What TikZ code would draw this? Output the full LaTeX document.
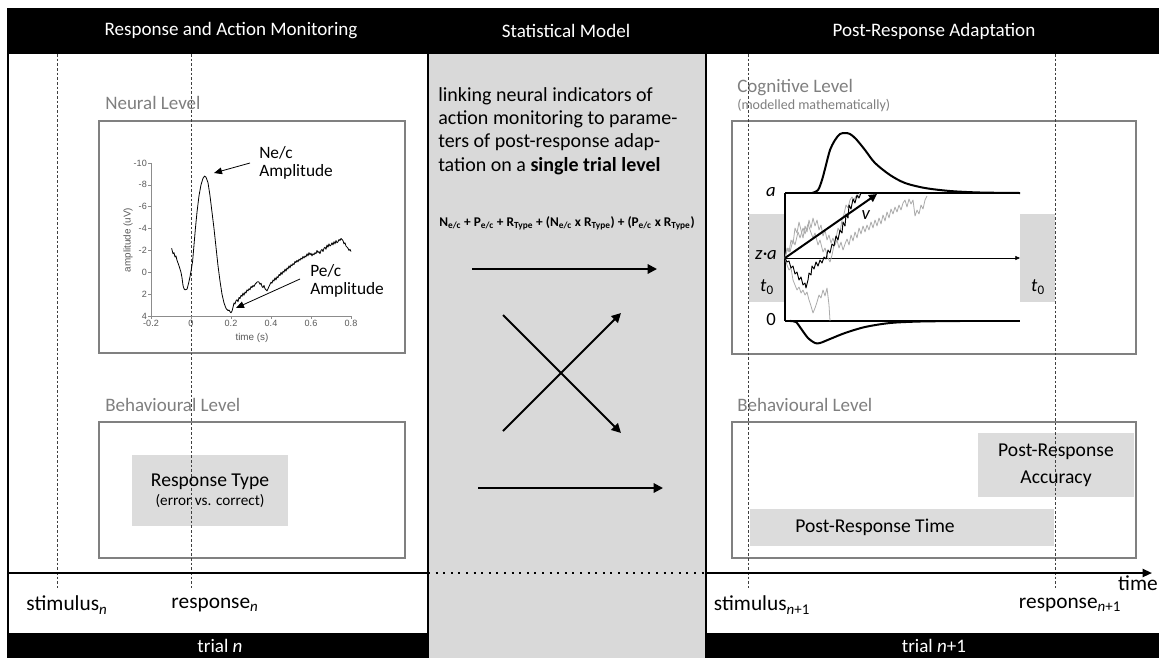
\documentclass[tikz,border=0pt]{standalone}
\usepackage{fontspec}
\setmainfont{Carlito}
\newfontfamily\arialfont{Liberation Sans}
\usetikzlibrary{arrows.meta}
\definecolor{panelgray}{HTML}{D9D9D9}
\definecolor{boxgray}{HTML}{DCDCDC}
\definecolor{framegray}{HTML}{808080}
\definecolor{labelgray}{HTML}{7F7F7F}
\definecolor{axisgray}{HTML}{8C8C8C}
\definecolor{ticktext}{HTML}{595959}
\definecolor{walkgray}{HTML}{AAAAAA}
\begin{document}
\begin{tikzpicture}[x=0.75pt,y=-0.75pt,
  framebox/.style={draw=framegray, line width=1.5pt},
  graybox/.style={fill=boxgray, draw=none},
  levellabel/.style={text=labelgray, font=\fontsize{14.25}{17}\selectfont, anchor=west, inner sep=0pt},
  headtext/.style={text=white, font=\fontsize{14.3}{16}\selectfont, inner sep=0pt},
  boxtext/.style={font=\fontsize{14.7}{17.5}\selectfont, align=center, inner sep=0pt},
  timelabel/.style={font=\fontsize{16}{19}\selectfont, inner sep=0pt},
  vdash/.style={draw=black!75, line width=0.5pt, dash pattern=on 2pt off 1.5pt},
  bigarrow/.style={line width=1.5pt, -{Triangle[length=7pt,width=7pt]}},
  ticklab/.style={font=\arialfont\fontsize{6.8}{8}\selectfont, text=ticktext, inner sep=1pt},
  axlab/.style={font=\arialfont\fontsize{7.4}{9}\selectfont, text=ticktext, inner sep=0pt},
  ampl/.style={font=\fontsize{13}{15}\selectfont, align=left, anchor=west, inner sep=0pt},
  ddmlab/.style={font=\fontsize{14}{16}\selectfont, inner sep=0pt},
  walk/.style={draw=walkgray, line width=0.6pt, line join=round},
  dist/.style={line width=1.5pt, line join=round}
]
\useasboundingbox (0,0) rectangle (1159,658);
\fill[white] (0,0) rectangle (1159,658);

% ---------- panels ----------
\fill[panelgray] (428,54) rectangle (706,658);
\fill[black] (7,8) rectangle (1159,54);
\fill[black] (7,633) rectangle (428,658);
\fill[black] (706,633) rectangle (1159,658);
\draw[line width=1.5pt] (8,54) -- (8,633);
\draw[line width=1.5pt] (428,54) -- (428,658);
\draw[line width=1.5pt] (706,54) -- (706,658);

\node[headtext] (h1) at (231,31) {Response and Action Monitoring};
\node[headtext] (h2) at (566,31) {Statistical Model};
\node[headtext] (h3) at (934,31) {Post-Response Adaptation};
\node[headtext] (tn) at (220,646) {trial \textit{n}};
\node[headtext] (tn1) at (934,646) {trial \textit{n}+1};

% ---------- left boxes ----------
\node[levellabel] (neurlab) at (105,103) {Neural Level};
\draw[framebox] (99,121) rectangle (405,353);
\node[levellabel] (behlabL) at (105,405) {Behavioural Level};
\draw[framebox] (99,422) rectangle (405,558);
\fill[boxgray] (132,455) rectangle (288,526);

% ---------- right boxes ----------
\node[levellabel] (coglab) at (737,88) {Cognitive Level};
\node[text=labelgray, font=\fontsize{10.5}{12}\selectfont, anchor=west, inner sep=0pt] (cogsub) at (737,106) {(modelled mathematically)};
\draw[framebox] (732,121) rectangle (1136,354);
\node[levellabel] (behlabR) at (737,405) {Behavioural Level};
\draw[framebox] (732,422) rectangle (1136,558);
\fill[boxgray] (978,433) rectangle (1134,497);
\fill[boxgray] (750,509) rectangle (1054,546);
\fill[panelgray] (749,214) rectangle (785,302);
\fill[panelgray] (1020,214) rectangle (1055,302);

% ---------- dashed time markers ----------
\draw[vdash] (57,54) -- (57,588);
\draw[vdash] (191,54) -- (191,588);
\draw[vdash] (748,54) -- (748,588);
\draw[vdash] (1055,54) -- (1055,588);

% ---------- box texts ----------
\node[boxtext] (rtype) at (210,482) {Response Type};
\node[font=\fontsize{11.4}{13}\selectfont, inner sep=0pt] (rtsub) at (210,501) {(error vs. correct)};
\node[boxtext, font=\fontsize{14.7}{20}\selectfont] (pracc) at (1056,465) {Post-Response\\Accuracy};
\node[boxtext] (prtime) at (875,527) {Post-Response Time};

% ---------- ERP plot ----------
\begin{scope}[shift={(191,272.3)}, x=150pt, y=-8.2pt]
  \draw[axisgray, line width=0.6pt] (-0.2,-10) -- (-0.2,4) -- (0.8,4);
  \foreach \v in {-10,-8,-6,-4,-2,0,2,4} {
    \draw[axisgray, line width=0.5pt] (-0.2,\v) -- ++(-2pt,0);
    \node[ticklab, anchor=east] at (-0.213,\v) {\v};
  }
  \foreach \v in {-0.2,0,0.2,0.4,0.6,0.8} {
    \draw[axisgray, line width=0.5pt] (\v,4) -- ++(0,-2pt);
    \node[ticklab, anchor=north] at (\v,4.25) {\v};
  }
  \node[axlab, rotate=90] (ylab) at (-0.315,-2.95) {amplitude (uV)};
  \node[axlab] (xlab) at (0.305,6.0) {time (s)};
  \draw[line width=0.6pt, line join=round] plot coordinates {
(-0.097,-2.2) (-0.09,-1.7) (-0.085,-1.8) (-0.08,-1.4) (-0.075,-1.5) (-0.07,-1.1) (-0.06,-0.6) (-0.05,0.0) (-0.045,0.5) (-0.04,1.2) (-0.035,1.5) (-0.03,1.6) (-0.02,1.55) (-0.012,1.0) (-0.005,0.4) (0.0,-0.1) (0.008,-1.0) (0.015,-2.5) (0.022,-4.0) (0.03,-5.5) (0.04,-7.0) (0.05,-8.0) (0.06,-8.6) (0.068,-8.8) (0.075,-8.7) (0.085,-8.2) (0.095,-7.0) (0.105,-5.5) (0.115,-4.0) (0.125,-2.3) (0.135,-0.6) (0.145,0.8) (0.155,2.0) (0.165,2.8) (0.175,3.3) (0.185,3.5) (0.19,3.45) (0.195,3.6) (0.2,3.7) (0.205,3.55) (0.21,3.2) (0.215,2.8) (0.22,2.9) (0.225,2.6) (0.23,2.5) (0.235,2.7) (0.24,2.3) (0.245,2.4) (0.25,2.1) (0.255,2.2) (0.26,1.9) (0.265,2.1) (0.27,1.8) (0.275,1.9) (0.28,1.6) (0.285,1.7) (0.29,1.5) (0.295,1.6) (0.3,1.3) (0.305,1.4) (0.31,1.2) (0.315,1.3) (0.32,1.1) (0.325,1.0) (0.33,0.9) (0.335,0.85) (0.34,0.9) (0.345,1.1) (0.35,1.0) (0.355,1.3) (0.36,1.4) (0.365,1.2) (0.37,1.5) (0.375,1.6) (0.38,1.7) (0.385,1.5) (0.39,1.3) (0.395,1.1) (0.4,0.9) (0.405,1.0) (0.41,0.7) (0.415,0.8) (0.42,0.5) (0.425,0.7) (0.43,0.4) (0.435,0.5) (0.44,0.2) (0.445,0.3) (0.45,0.0) (0.455,0.2) (0.46,-0.1) (0.465,0.0) (0.47,-0.3) (0.475,-0.1) (0.48,-0.4) (0.485,-0.3) (0.49,-0.6) (0.495,-0.4) (0.5,-0.7) (0.505,-0.6) (0.51,-0.8) (0.515,-0.7) (0.52,-1.0) (0.525,-0.9) (0.53,-1.1) (0.535,-0.95) (0.54,-1.2) (0.545,-1.1) (0.55,-1.3) (0.555,-1.2) (0.56,-1.45) (0.565,-1.3) (0.57,-1.5) (0.575,-1.4) (0.58,-1.7) (0.585,-1.5) (0.59,-1.8) (0.595,-1.6) (0.6,-1.75) (0.605,-1.5) (0.61,-1.7) (0.615,-1.6) (0.62,-1.8) (0.625,-1.7) (0.63,-2.0) (0.635,-1.8) (0.64,-1.9) (0.645,-1.7) (0.65,-2.0) (0.655,-2.1) (0.66,-1.9) (0.665,-2.2) (0.67,-2.3) (0.675,-2.1) (0.68,-2.5) (0.685,-2.3) (0.69,-2.6) (0.695,-2.4) (0.7,-2.5) (0.705,-2.7) (0.71,-2.5) (0.715,-2.8) (0.72,-2.6) (0.725,-2.9) (0.73,-2.7) (0.735,-2.8) (0.74,-3.0) (0.745,-2.9) (0.75,-3.1) (0.755,-3.0) (0.76,-2.9) (0.765,-2.6) (0.77,-2.7) (0.775,-2.4) (0.78,-2.3) (0.785,-2.2) (0.79,-2.0) (0.795,-2.1) (0.8,-1.9)};
\end{scope}
\node[ampl] (nec) at (259,163) {Ne/c\\[-1pt]Amplitude};
\node[ampl] (pec) at (310,281) {Pe/c\\[-1pt]Amplitude};
\coordinate (necA) at (250,163);
\coordinate (necB) at (214,173);
\coordinate (pecA) at (300,279);
\coordinate (pecB) at (236,308);
\draw[line width=0.6pt, -{Triangle[length=6pt,width=5pt]}] (necA) -- (necB);
\draw[line width=0.6pt, -{Triangle[length=6pt,width=5pt]}] (pecA) -- (pecB);

% ---------- DDM ----------
\coordinate (ddmO) at (785,258);
\coordinate (ddmE) at (1020,258);
\draw[line width=0.8pt] (785,193) -- (1020,193);
\draw[line width=0.8pt] (785,321) -- (1020,321);
\draw[line width=0.8pt] (785,193) -- (785,321);
\draw[line width=0.5pt, -{Triangle[length=3.5pt,width=3pt]}] (ddmO) -- (ddmE);
\draw[walk] plot coordinates {(785,258) (787,265) (789,270) (791,268) (793,280) (795,285) (797,290) (799,287) (801,293) (803,290) (805,295) (807,292) (809,300) (811,306) (813,313) (815,308) (817,302) (819,295) (821,298) (823,290) (825,296) (827,288) (829,305) (830,321)};
\draw[walk] plot coordinates {(785,258) (787,248) (789,252) (791,240) (793,244) (795,228) (797,233) (799,222) (801,230) (803,238) (805,226) (807,232) (809,220) (811,228) (813,218) (815,226) (817,220) (819,230) (821,225) (823,236) (825,230) (827,240) (829,235) (831,243) (833,238) (835,245) (837,240) (839,248) (841,242) (843,250) (845,244) (847,239) (849,245) (851,235) (853,241) (855,232) (857,238) (859,228) (861,234) (863,226) (865,232) (867,225) (869,230) (871,222) (873,228) (875,220) (877,226) (879,218) (881,224) (883,215) (885,221) (887,212) (889,218) (891,209) (893,214) (895,207) (897,212) (899,205) (901,210) (903,203) (905,200) (907,207) (909,199) (911,204) (913,200) (915,216) (917,210) (919,214) (921,205) (923,209) (925,200) (927,196)};
\draw[walk] plot coordinates {(785,258) (788,248) (790,252) (793,240) (795,245) (798,232) (800,238) (803,228) (805,234) (808,224) (810,230) (813,238) (815,233) (818,245) (820,240) (823,252) (825,248) (828,258) (830,262) (832,255) (834,245) (836,238) (838,228) (840,232) (842,220) (844,214) (846,205) (848,208) (850,200) (852,197) (854,200) (856,196) (858,198) (860,193)};
\draw[line width=0.7pt, line join=round] plot coordinates {(785,258) (787,262) (789,261) (791,268) (793,266) (795,274) (797,272) (799,280) (801,277) (803,285) (805,283) (806,288) (808,280) (809,273) (811,275) (812,266) (814,269) (816,262) (818,266) (820,260) (822,263) (824,257) (826,259) (828,250) (830,253) (832,244) (834,246) (836,236) (838,240) (840,230) (842,233) (843,222) (845,226) (846,214) (848,218) (849,205) (851,209) (853,199) (855,203) (857,195) (859,198) (861,193)};
\draw[dist] plot[smooth] coordinates {(812,193) (818,190) (822,180) (826,165) (830,150) (835,140) (840,134) (845,133) (850,134) (856,139) (865,150) (875,163) (890,175) (905,183) (925,188) (950,191) (980,192.5) (1020,193)};
\draw[dist] plot[smooth] coordinates {(790,321) (796,322) (802,330) (808,338) (815,343) (820,343) (830,339) (845,333) (865,327) (890,323) (920,321.5) (960,321)};
\coordinate (vtip) at (877,194);
\draw[line width=1.5pt, -{Triangle[length=6pt,width=6pt]}] (ddmO) -- (vtip);
\node[ddmlab] (vlab) at (866,215) {\textit{v}};
\node[ddmlab] (alab) at (771,192) {\textit{a}};
\node[ddmlab] (zalab) at (766,255) {\textit{z·a}};
\node[ddmlab] (t0L) at (767,287) {\textit{t}\textsubscript{0}};
\node[ddmlab] (zerolab) at (771,319) {0};
\node[ddmlab] (t0R) at (1038,287) {\textit{t}\textsubscript{0}};

% ---------- middle panel ----------
\node[font=\fontsize{15}{17.6}\selectfont, align=left, anchor=west, inner sep=0pt] (linktext) at (438,131) {linking neural indicators of\\action monitoring to parame-\\ters of post-response adap-\\tation on a \textbf{single trial level}};
\node[font=\bfseries\fontsize{10}{12}\selectfont, inner sep=0pt] (formula) at (567,223) {N\textsubscript{e/c} + P\textsubscript{e/c} + R\textsubscript{Type} + (N\textsubscript{e/c} x R\textsubscript{Type}) + (P\textsubscript{e/c} x R\textsubscript{Type})};
\coordinate (a1s) at (472,269);
\coordinate (a1e) at (657,269);
\coordinate (c1s) at (503,315);
\coordinate (c1e) at (621,433);
\coordinate (c2s) at (503,431);
\coordinate (c2e) at (621,313);
\coordinate (a2s) at (478,488);
\coordinate (a2e) at (663,488);
\draw[bigarrow] (a1s) -- (a1e);
\draw[bigarrow] (c1s) -- (c1e);
\draw[bigarrow] (c2s) -- (c2e);
\draw[bigarrow] (a2s) -- (a2e);

% ---------- time axis ----------
\coordinate (ax0) at (8,573);
\coordinate (ax1) at (428,573);
\coordinate (ax2) at (706,573);
\coordinate (ax3) at (1152,573);
\draw[line width=1.5pt] (ax0) -- (ax1);
\draw[line width=1.5pt, dash pattern=on 1.5pt off 4.2pt] (ax1) -- (ax2);
\draw[line width=1.5pt, -{Triangle[length=7pt,width=6pt]}] (ax2) -- (ax3);
\node[timelabel] (timelab) at (1138,583) {time};
\node[timelabel] (stimn) at (67,605) {stimulus\textsubscript{\textit{n}}};
\node[timelabel] (respn) at (215,605) {response\textsubscript{\textit{n}}};
\node[timelabel] (stimn1) at (762,605) {stimulus\textsubscript{\textit{n}+1}};
\node[timelabel] (respn1) at (1070,605) {response\textsubscript{\textit{n}+1}};
\end{tikzpicture}
\end{document}
